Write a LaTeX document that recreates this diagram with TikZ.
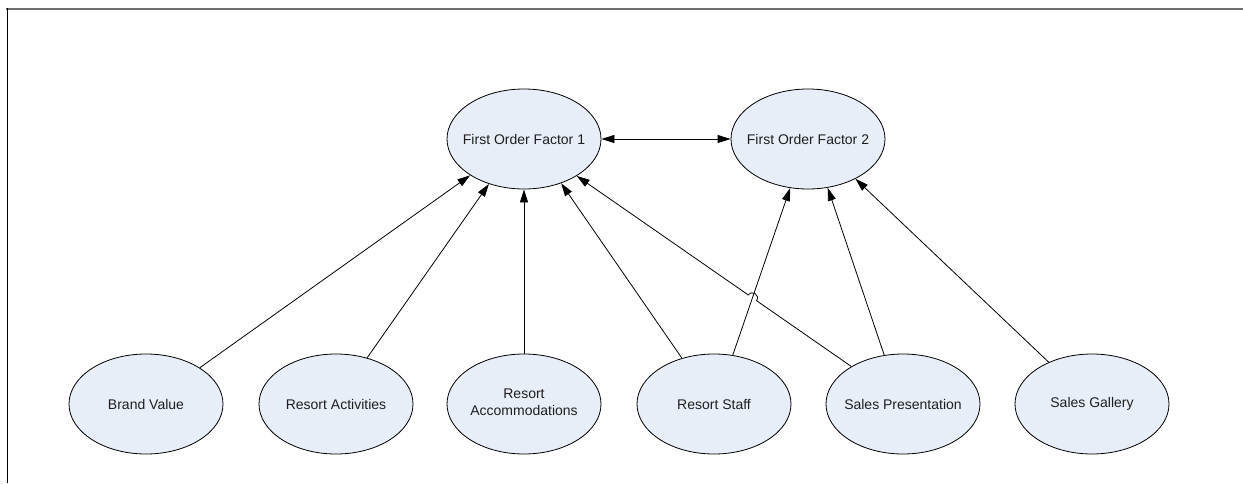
\documentclass[tikz,border=0pt]{standalone}
\usepackage{fontspec}
\setmainfont{Liberation Sans}
\usetikzlibrary{shapes.geometric,arrows.meta,calc,intersections}
\definecolor{bub}{RGB}{232,238,248}
\definecolor{txt}{RGB}{30,30,30}
\definecolor{framegray}{RGB}{110,110,110}
\begin{document}
\begin{tikzpicture}[x=1pt,y=-1pt,
  fac/.style={ellipse,draw=black,line width=0.8pt,fill=bub,minimum width=154pt,minimum height=100pt,inner sep=0pt,font=\fontsize{14pt}{16.8pt}\selectfont,text=txt},
  arr/.style={-{Triangle[length=13pt,width=8pt]},line width=0.8pt},
  darr/.style={{Triangle[length=13pt,width=8pt]}-{Triangle[length=13pt,width=8pt]},line width=0.8pt}
]
\useasboundingbox (0,0) rectangle (1243,483);
\draw[framegray,line width=2pt] (6,9) -- (1243,9);
\draw[black,line width=1pt] (7,8) -- (7,483);

\node[fac] (f1) at (524,139) {\makebox[0pt]{First Order Factor 1}};
\node[fac] (f2) at (808,139) {\makebox[0pt]{First Order Factor 2}};
\node[fac] (bv) at (146,404) {\makebox[0pt]{Brand Value}};
\node[fac] (ra) at (336,404) {\makebox[0pt]{Resort Activities}};
\node[fac] (rc) at (524,404) {\makebox[0pt]{\begin{tabular}{@{}c@{}}Resort\\Accommodations\end{tabular}}};
\node[fac] (rs) at (714,404) {\makebox[0pt]{Resort Staff}};
\node[fac] (sp) at (903,404) {\makebox[0pt]{Sales Presentation}};
\node[fac] (sg) at (1092,404) {\makebox[0pt]{Sales Gallery}};

\draw[arr] (bv.34) -- (f1.214);
\draw[arr] (ra.56) -- (f1.232);
\draw[arr] (rc.north) -- (f1.south);
\draw[arr] (rs.125) -- (f1.310);
\draw[arr] (rs.69) -- (f2.250);
\draw[arr] (sp.111) -- (f2.292);
\draw[arr] (sg.136) -- (f2.320);
\draw[darr] (f1.east) -- (f2.west);

\path[name path=pa] (sp.144) -- (f1.325);
\path[name path=pb] (rs.69) -- (f2.250);
\path[name intersections={of=pa and pb, by=X}];
\coordinate (hA) at ($(X)!5pt!(sp.144)$);
\coordinate (hB) at ($(X)!5pt!(f1.325)$);
\draw[arr] (sp.144) -- (hA) .. controls ($(hA)!6.67pt!-90:(hB)$) and ($(hB)!6.67pt!90:(hA)$) .. (hB) -- (f1.325);
\end{tikzpicture}
\end{document}
